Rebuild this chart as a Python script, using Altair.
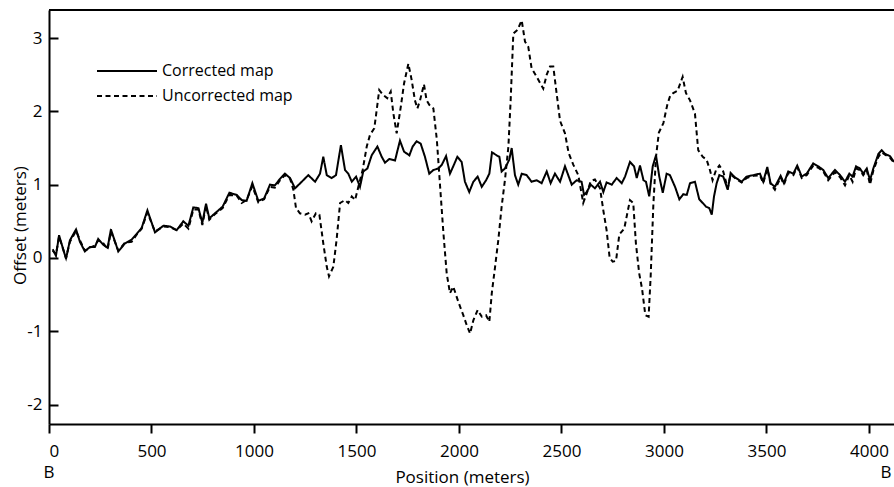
import altair as alt
import pandas as pd

# ---- data ----
CORR_X = [18, 34, 49, 83, 102, 132, 151, 175, 200, 224, 240, 265, 286, 302, 338, 371, 403, 428, 452, 480,
          517, 558, 590, 623, 655, 680, 704, 729, 748, 766, 782, 810, 847, 880, 916, 940, 964, 992, 1021, 1049,
          1078, 1102, 1127, 1151, 1176, 1200, 1233, 1265, 1298, 1322, 1338, 1355, 1379, 1400, 1424, 1444, 1460,
          1477, 1498, 1517, 1533, 1553, 1574, 1602, 1623, 1639, 1660, 1688, 1712, 1732, 1758, 1774, 1793, 1813,
          1834, 1855, 1875, 1899, 1916, 1937, 1956, 1972, 1992, 2013, 2029, 2050, 2070, 2091, 2111, 2132, 2148,
          2161, 2184, 2197, 2208, 2224, 2245, 2257, 2273, 2289, 2306, 2330, 2354, 2379, 2403, 2428, 2447, 2468,
          2493, 2517, 2550, 2574, 2598, 2610, 2623, 2643, 2663, 2688, 2704, 2720, 2745, 2769, 2794, 2810, 2834,
          2854, 2867, 2883, 2900, 2912, 2928, 2945, 2961, 2977, 2994, 3013, 3029, 3054, 3075, 3094, 3111, 3127,
          3151, 3172, 3189, 3205, 3221, 3233, 3244, 3257, 3270, 3289, 3311, 3325, 3346, 3379, 3403, 3436, 3468,
          3484, 3504, 3520, 3541, 3569, 3585, 3606, 3631, 3650, 3672, 3696, 3728, 3753, 3777, 3801, 3834, 3859,
          3883, 3904, 3920, 3937, 3956, 3972, 3989, 4005, 4021, 4046, 4062, 4078, 4102, 4122]
CORR_Y = [0.12, 0.03, 0.31, -0.01, 0.24, 0.39, 0.22, 0.09, 0.15, 0.15, 0.26, 0.18, 0.14, 0.39, 0.09, 0.2, 0.25,
          0.33, 0.41, 0.65, 0.35, 0.44, 0.43, 0.38, 0.5, 0.44, 0.69, 0.68, 0.48, 0.74, 0.54, 0.61, 0.7, 0.89,
          0.86, 0.79, 0.78, 1.02, 0.78, 0.81, 1.0, 0.99, 1.08, 1.15, 1.09, 0.95, 1.04, 1.13, 1.04, 1.15, 1.38,
          1.13, 1.09, 1.13, 1.54, 1.2, 1.15, 1.04, 1.11, 0.97, 1.18, 1.22, 1.4, 1.52, 1.38, 1.3, 1.35, 1.33, 1.6,
          1.45, 1.4, 1.52, 1.59, 1.56, 1.38, 1.15, 1.2, 1.22, 1.27, 1.39, 1.15, 1.25, 1.38, 1.31, 1.04, 0.9, 1.04,
          1.11, 0.97, 1.06, 1.15, 1.44, 1.4, 1.38, 1.18, 1.22, 1.34, 1.5, 1.13, 1.0, 1.15, 1.13, 1.04, 1.06, 1.02,
          1.18, 1.02, 1.15, 1.04, 1.25, 1.0, 1.06, 1.04, 0.86, 0.9, 1.0, 0.95, 1.04, 0.9, 1.03, 1.0, 1.09, 1.02,
          1.11, 1.31, 1.25, 1.09, 1.26, 1.06, 1.04, 0.84, 1.25, 1.4, 1.11, 0.89, 1.15, 1.13, 0.97, 0.8, 0.87,
          0.86, 1.02, 1.04, 0.8, 0.75, 0.7, 0.68, 0.59, 0.84, 1.02, 1.13, 1.11, 0.93, 1.16, 1.1, 1.04, 1.11, 1.13,
          1.15, 1.04, 1.24, 1.02, 0.97, 1.12, 1.02, 1.18, 1.15, 1.26, 1.11, 1.15, 1.29, 1.25, 1.2, 1.09, 1.2,
          1.13, 1.04, 1.15, 1.11, 1.25, 1.22, 1.15, 1.22, 1.06, 1.22, 1.42, 1.47, 1.42, 1.39, 1.31]

UNC_X = [18, 34, 49, 83, 102, 132, 151, 175, 200, 224, 240, 265, 286, 302, 338, 371, 403, 428, 452, 480,
         517, 558, 590, 623, 655, 680, 704, 729, 748, 766, 782, 810, 847, 880, 916, 940, 964, 992, 1021, 1049,
         1078, 1102, 1127, 1151, 1176, 1192, 1205, 1224, 1249, 1265, 1281, 1302, 1319, 1338, 1355, 1366, 1387,
         1403, 1420, 1444, 1460, 1477, 1493, 1509, 1530, 1550, 1566, 1587, 1611, 1631, 1650, 1667, 1680, 1696,
         1716, 1732, 1753, 1769, 1785, 1797, 1810, 1829, 1842, 1855, 1875, 1892, 1908, 1924, 1940, 1956, 1972,
         1997, 2021, 2037, 2054, 2070, 2091, 2111, 2132, 2148, 2160, 2176, 2192, 2208, 2224, 2241, 2252, 2265,
         2285, 2306, 2322, 2338, 2354, 2379, 2411, 2428, 2444, 2460, 2476, 2493, 2517, 2535, 2558, 2582, 2606,
         2623, 2643, 2663, 2688, 2704, 2720, 2735, 2750, 2766, 2782, 2806, 2834, 2850, 2863, 2879, 2893, 2909,
         2925, 2935, 2948, 2961, 2975, 2997, 3017, 3030, 3045, 3066, 3091, 3107, 3127, 3151, 3167, 3189, 3208,
         3224, 3237, 3254, 3270, 3289, 3311, 3325, 3346, 3379, 3403, 3436, 3468, 3484, 3504, 3520, 3541, 3569,
         3585, 3606, 3631, 3650, 3672, 3696, 3728, 3753, 3777, 3801, 3834, 3859, 3883, 3904, 3920, 3937, 3956,
         3972, 3989, 4005, 4021, 4046, 4062, 4078, 4102, 4122]
UNC_Y = [0.1, 0.05, 0.29, 0.0, 0.22, 0.37, 0.24, 0.1, 0.14, 0.17, 0.24, 0.2, 0.12, 0.36, 0.1, 0.21, 0.22, 0.32,
         0.4, 0.62, 0.36, 0.43, 0.42, 0.38, 0.47, 0.4, 0.66, 0.66, 0.45, 0.71, 0.52, 0.6, 0.68, 0.86, 0.85, 0.75,
         0.79, 0.98, 0.76, 0.8, 0.97, 0.96, 1.06, 1.13, 1.08, 0.93, 0.68, 0.61, 0.59, 0.61, 0.5, 0.61, 0.59, 0.2,
         -0.12, -0.25, -0.12, 0.25, 0.75, 0.79, 0.75, 0.84, 0.79, 0.97, 1.2, 1.52, 1.68, 1.77, 2.29, 2.22, 2.18,
         2.27, 1.97, 1.7, 2.06, 2.38, 2.65, 2.43, 2.15, 2.04, 2.15, 2.37, 2.15, 2.09, 2.04, 1.61, 0.97, 0.34,
         -0.21, -0.48, -0.39, -0.6, -0.78, -0.91, -1.03, -0.85, -0.71, -0.8, -0.78, -0.87, -0.48, -0.12, 0.25,
         0.7, 1.06, 1.52, 2.15, 3.06, 3.11, 3.24, 2.95, 2.88, 2.59, 2.47, 2.31, 2.5, 2.61, 2.61, 2.25, 1.87, 1.7,
         1.43, 1.27, 1.13, 0.75, 0.88, 1.05, 1.07, 0.95, 0.65, 0.38, 0.0, -0.05, -0.04, 0.32, 0.4, 0.79, 0.75,
         0.2, -0.21, -0.42, -0.78, -0.8, -0.25, 0.72, 1.38, 1.71, 1.84, 2.1, 2.21, 2.25, 2.28, 2.47, 2.25, 2.15,
         1.97, 1.47, 1.38, 1.34, 1.2, 1.06, 1.2, 1.26, 1.18, 0.95, 1.14, 1.09, 1.03, 1.09, 1.12, 1.13, 1.02, 1.22,
         1.01, 0.93, 1.1, 1.0, 1.16, 1.13, 1.24, 1.09, 1.13, 1.26, 1.23, 1.18, 1.06, 1.17, 1.1, 0.99, 1.13, 1.04,
         1.22, 1.2, 1.13, 1.2, 1.0, 1.19, 1.38, 1.44, 1.41, 1.37, 1.3]

SERIES = ["Corrected map", "Uncorrected map"]
X_TICKS = [0, 500, 1000, 1500, 2000, 2500, 3000, 3500, 4000]
Y_TICKS = [-2, -1, 0, 1, 2, 3]
END_LABELS = ["B", "B"]
END_POS = [0, 4083]

FONT = "Open Sans"

df = pd.concat([
    pd.DataFrame({"pos": UNC_X, "offset": UNC_Y, "series": SERIES[1], "order": range(len(UNC_X))}),
    pd.DataFrame({"pos": CORR_X, "offset": CORR_Y, "series": SERIES[0], "order": range(len(CORR_X))}),
], ignore_index=True)

W, H = 845, 414
xscale = alt.Scale(domain=[0, 4122], nice=False, zero=False)
yscale = alt.Scale(domain=[-2.264, 3.382], nice=False, zero=False)

lines = alt.Chart(df).mark_line(strokeWidth=2, color="black", clip=True).encode(
    x=alt.X("pos:Q", scale=xscale,
            axis=alt.Axis(values=X_TICKS, labelExpr="'' + datum.value", title="Position (meters)",
                          tickSize=9, labelPadding=10, titleX=413, titleY=58,
                          titleBaseline="alphabetic", titleAlign="center")),
    y=alt.Y("offset:Q", scale=yscale,
            axis=alt.Axis(values=Y_TICKS, labelExpr="'' + datum.value", title="Offset (meters)",
                          tickSize={"expr": "-9"}, labelPadding=16, titleAngle=270, titleX=-29,
                          titleY=215, titleBaseline="middle", titleAlign="center")),
    strokeDash=alt.StrokeDash("series:N",
                              scale=alt.Scale(domain=SERIES, range=[[1, 0], [5, 3.5]]),
                              legend=alt.Legend(orient="none", legendX=47, legendY=48.5, title=None,
                                                symbolType="stroke", symbolSize=3600, symbolStrokeWidth=2,
                                                symbolStrokeColor="black", clipHeight=25, rowPadding=0,
                                                padding=0, labelOffset=4, labelFont=FONT,
                                                labelFontSize=16, labelColor="black")),
    detail="series:N",
    order="order:Q",
)

top_df = pd.DataFrame({"y": [yscale.domain[1]]})
top = alt.Chart(top_df).mark_rule(color="black", strokeWidth=2).encode(
    y=alt.Y("y:Q", scale=yscale), x=alt.value(0), x2=alt.value(W))

ends = alt.Chart(pd.DataFrame({"pos": END_POS, "t": END_LABELS})).mark_text(
    font=FONT, fontSize=17, color="black", baseline="middle", align="center").encode(
    x=alt.X("pos:Q", scale=xscale), y=alt.value(H + 49), text="t:N")

chart = alt.layer(lines, top, ends).properties(
    width=W, height=H,
    autosize=alt.AutoSizeParams(type="none"),
    padding={"left": 49, "top": 10, "right": 0, "bottom": 63},
).configure_view(stroke=None).configure_axis(
    grid=False, domainColor="black", domainWidth=2, tickColor="black", tickWidth=2,
    labelColor="black", titleColor="black", labelFont=FONT, titleFont=FONT,
    labelFontSize=17, titleFontSize=17, titleFontWeight="normal",
)

chart.save("out.html", embed_options={"renderer": "svg", "actions": False})
